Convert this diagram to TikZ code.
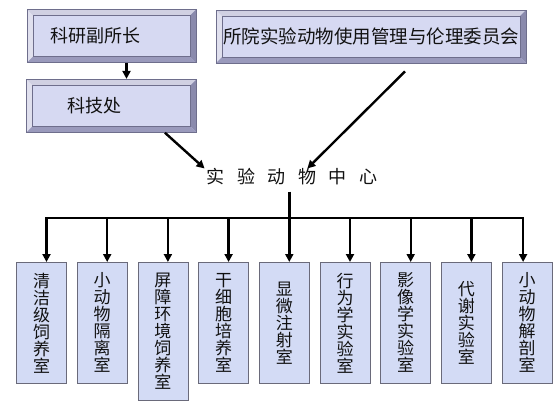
\documentclass[tikz,border=0pt]{standalone}
\usepackage{fontspec}
\setmainfont{Noto Sans CJK SC}
\usepackage{xcolor}
\definecolor{Ink}{HTML}{111111}
\definecolor{Panel}{HTML}{D6D9F2}
\definecolor{PanelEdge}{HTML}{6E6E8C}
\definecolor{BevelTop}{HTML}{D0D0E2}
\definecolor{BevelLeft}{HTML}{E0E0EE}
\definecolor{BevelRight}{HTML}{8A8AAC}
\definecolor{BevelLow}{HTML}{9A9ABC}
\definecolor{Room}{HTML}{D3DBF5}
\definecolor{RoomEdge}{HTML}{6A6A7A}
\usepackage{tikz}
\usetikzlibrary{arrows.meta,positioning,calc}
\tikzset{
  panel/.style={draw=PanelEdge,fill=Panel,line width=.8pt,minimum height=53pt,
    inner sep=0pt,text=Ink,font=\fontsize{18}{20}\selectfont,
    path picture={
      \coordinate (pnw) at (path picture bounding box.north west);
      \coordinate (pne) at (path picture bounding box.north east);
      \coordinate (psw) at (path picture bounding box.south west);
      \coordinate (pse) at (path picture bounding box.south east);
      \fill[BevelTop] (pnw) -- (pne) -- ([shift={(-6pt,-6pt)}]pne) -- ([shift={(6pt,-6pt)}]pnw) -- cycle;
      \fill[BevelLeft] (pnw) -- (psw) -- ([shift={(6pt,6pt)}]psw) -- ([shift={(6pt,-6pt)}]pnw) -- cycle;
      \fill[BevelRight] (pne) -- (pse) -- ([shift={(-6pt,6pt)}]pse) -- ([shift={(-6pt,-6pt)}]pne) -- cycle;
      \fill[BevelLow] (psw) -- (pse) -- ([shift={(-6pt,6pt)}]pse) -- ([shift={(6pt,6pt)}]psw) -- cycle;
      \draw[PanelEdge,line width=.6pt] ([shift={(6pt,-6pt)}]pnw) rectangle ([shift={(-6pt,6pt)}]pse);
    }},
  room/.style={draw=RoomEdge,fill=Room,line width=.7pt,minimum width=50pt,
    minimum height=121pt,inner sep=0pt,align=center,text=Ink,
    font=\fontsize{17}{17}\selectfont},
  hub/.style={inner sep=0pt,text=Ink,font=\fontsize{18}{20}\selectfont},
  arrow/.style={->,line width=2.4pt,draw=black}
}
\begin{document}
\begin{tikzpicture}[x=1pt,y=-1pt,>={Triangle[length=8pt,width=8pt]}]
\useasboundingbox (0,0) rectangle (560,408);
\node[panel,minimum width=169pt] (fu) at (111.5,36) {科研副所长\hspace*{32pt}};
\node[panel,minimum width=170pt,below=16pt of fu] (kj) {科技处\hspace*{34pt}};
\node[panel,minimum width=310pt,font=\fontsize{18.5}{21}\selectfont] (wy) at (371,36.5) {所院实验动物使用管理与伦理委员会};
\node[hub] (mc) at (292,177) {实\hspace{12.5pt}验\hspace{12.5pt}动\hspace{12.5pt}物\hspace{12.5pt}中\hspace{12.5pt}心};
% labs
\node[room,anchor=north] (b1) at (41.5,262) {清\\洁\\级\\饲\\养\\室};
\node[room,anchor=north west] (b2) at ([xshift=10pt]b1.north east) {小\\动\\物\\隔\\离\\室};
\node[room,anchor=north west,minimum height=138pt] (b3) at ([xshift=10pt]b2.north east) {屏\\障\\环\\境\\饲\\养\\室};
\node[room,anchor=north west] (b4) at ([xshift=10pt]b3.north east) {干\\细\\胞\\培\\养\\室};
\node[room,anchor=north west] (b5) at ([xshift=10pt]b4.north east) {显\\微\\注\\射\\室};
\node[room,anchor=north west] (b6) at ([xshift=10pt]b5.north east) {行\\为\\学\\实\\验\\室};
\node[room,anchor=north west] (b7) at ([xshift=10pt]b6.north east) {影\\像\\学\\实\\验\\室};
\node[room,anchor=north west] (b8) at ([xshift=10pt]b7.north east) {代\\谢\\实\\验\\室};
\node[room,anchor=north west] (b9) at ([xshift=10pt]b8.north east) {小\\动\\物\\解\\剖\\室};
\coordinate (bar) at (0,218);
\coordinate (stem) at ([yshift=-6pt]mc.south);
\draw[arrow] ([xshift=15pt]fu.south) -- ([xshift=15pt]fu.south |- kj.north);
\draw[arrow] ([xshift=-32pt]kj.south east) -- ([xshift=-2pt]mc.north west);
\draw[arrow] ([shift={(34pt,-8pt)}]wy.south) -- ($(mc.north west)!0.59!(mc.north east)$);
\draw[arrow] ([xshift=5pt]b5.north |- stem) -- ([xshift=5pt]b5.north);
\draw[arrow,<->] ([xshift=5pt]b1.north) -- ([xshift=5pt]b1.north |- bar)
  -- ([xshift=-4pt]b9.north |- bar) -- ([xshift=-4pt]b9.north);
\foreach \i in {2,3,4,6,7,8}
  \draw[arrow] ([xshift=5pt]b\i.north |- bar) -- ([xshift=5pt]b\i.north);
\end{tikzpicture}
\end{document}
